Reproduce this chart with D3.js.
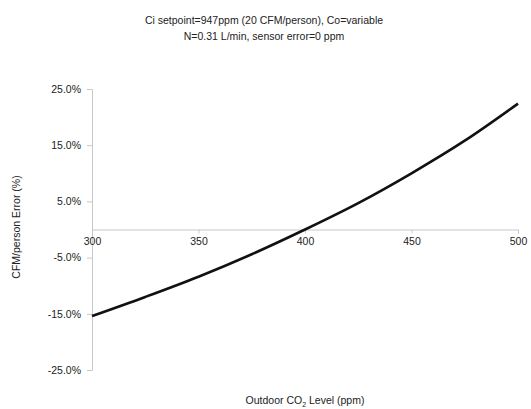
<!DOCTYPE html>
<html>
<head>
<meta charset="utf-8">
<script src="https://cdn.jsdelivr.net/npm/d3@7"></script>
<style>
  body { margin: 0; background: #fff; }
  svg text { font-family: "Liberation Sans", Arial, sans-serif; fill: #222; }
</style>
</head>
<body>
<svg id="chart" width="531" height="409"></svg>
<script>
// outdoor CO2 (ppm) and error
const co2Levels = [300, 325, 350, 375, 400, 425, 450, 475, 500]
const errorPct = [-15.4, -12.0, -8.4, -4.4, 0.0, 4.7, 10.0, 15.8, 22.4]
const xTicks = [300, 350, 400, 450, 500]
const yTicks = [25, 15, 5, -5, -15, -25]
const titleLines = ["Ci setpoint=947ppm (20 CFM/person), Co=variable", "N=0.31 L/min,  sensor error=0 ppm"]

const svg = d3.select("#chart")
const x = d3.scaleLinear().domain([300, 500]).range([92, 518])
const y = d3.scaleLinear().domain([-25, 25]).range([370, 89])

// plain hyphen minus like the original
const pct = d => d.toFixed(1) + "%"

// title
svg.selectAll(".title").data(titleLines).enter()
   .append("text")
   .attr("class", "title")
   .attr("x", 264)
   .attr("y", (d, i) => 24 + i * 16)
   .attr("text-anchor", "middle")
   .style("font-size", "10.5px")
   .text(d => d)

// y axis
const yAxis = svg.append("g").attr("transform", "translate(92,0)")
   .call(d3.axisLeft(y).tickValues(yTicks).tickSize(5).tickPadding(6).tickFormat(pct))
yAxis.select(".domain").attr("stroke", "#c8c8c8")
yAxis.selectAll(".tick line").attr("stroke", "#c8c8c8")
yAxis.selectAll(".tick text").style("font-size", "10.5px").style("font-family", "Liberation Sans, Arial, sans-serif").attr("fill", "#222")

// x axis at zero
const xAxis = svg.append("g").attr("transform", "translate(0," + y(0) + ")")
   .call(d3.axisBottom(x).tickValues(xTicks).tickSize(4).tickSizeOuter(4).tickPadding(4))
xAxis.select(".domain").attr("stroke", "#c8c8c8")
xAxis.selectAll(".tick line").attr("stroke", "#c8c8c8")
xAxis.selectAll(".tick text").style("font-size", "10.5px").style("font-family", "Liberation Sans, Arial, sans-serif").attr("fill", "#222")

// curve
const line = d3.line()
   .x((d, i) => x(co2Levels[i]))
   .y(d => y(d))
   .curve(d3.curveMonotoneX)

svg.append("path")
   .datum(errorPct)
   .attr("d", line)
   .attr("fill", "none")
   .attr("stroke", "#111")
   .attr("stroke-width", 2.6)

// axis titles
svg.append("text")
   .attr("transform", "translate(20,227) rotate(-90)")
   .attr("text-anchor", "middle")
   .style("font-size", "10.5px")
   .text("CFM/person Error (%)")

const xt = svg.append("text")
   .attr("x", 305)
   .attr("y", 404)
   .attr("text-anchor", "middle")
   .style("font-size", "10.5px")
xt.append("tspan").text("Outdoor CO")
xt.append("tspan").attr("dy", 3).style("font-size", "7px").text("2")
xt.append("tspan").attr("dy", -3).text(" Level (ppm)")
</script>
</body>
</html>
